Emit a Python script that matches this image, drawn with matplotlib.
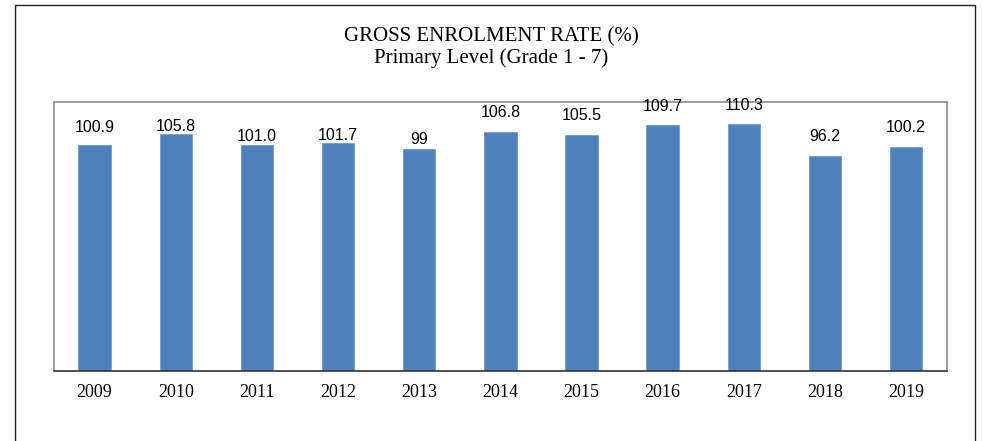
import matplotlib
matplotlib.use("Agg")
import matplotlib.pyplot as plt
from matplotlib.patches import Rectangle

years = ["2009", "2010", "2011", "2012", "2013", "2014", "2015", "2016", "2017", "2018", "2019"]
rates = [100.9, 105.8, 101.0, 101.7, 99.0, 106.8, 105.5, 109.7, 110.3, 96.2, 100.2]
labels = ["100.9", "105.8", "101.0", "101.7", "99", "106.8", "105.5", "109.7", "110.3", "96.2", "100.2"]
label_offsets_px = [18, 8, 8, 8, 10, 19, 19, 19, 19, 19, 19]

W, H = 983, 441
fig = plt.figure(figsize=(W / 100, H / 100), dpi=100)
fig.patch.set_facecolor("white")

# outer frame
fig.patches.append(Rectangle((15 / W, -0.05), (975 - 15) / W, (H - 5) / H + 0.05,
                             transform=fig.transFigure, fill=False,
                             edgecolor="#222222", linewidth=1.0))

ax = fig.add_axes([54 / W, 70 / H, (946.7 - 54) / W, (371 - 102.3) / H])
x = list(range(len(years)))
ax.bar(x, rates, width=0.40, color="#4F81BD", edgecolor="#6f9bd1", linewidth=0.6, zorder=2)
ax.set_xlim(-0.5, len(years) - 0.5)
ax.set_ylim(0, 120)
ax.set_xticks(x)
ax.set_xticklabels(years, fontfamily="Liberation Serif", fontsize=13)
ax.tick_params(axis="x", length=0, pad=9.5)
ax.set_yticks([])
for s in ["left", "right", "top"]:
    ax.spines[s].set_color("#8c8c8c")
    ax.spines[s].set_linewidth(1.2)
ax.spines["bottom"].set_color("#333333")
ax.spines["bottom"].set_linewidth(1.2)

for xi, v, lab, off in zip(x, rates, labels, label_offsets_px):
    ax.annotate(lab, (xi, v), xytext=(0, off), textcoords="offset pixels",
                ha="center", va="center", fontfamily="Liberation Sans",
                fontsize=11.5, color="black", annotation_clip=False, zorder=3)

fig.text(0.5, 1 - 41 / H, "GROSS ENROLMENT RATE (%)", ha="center", va="baseline",
         fontfamily="Liberation Serif", fontsize=15)
fig.text(0.5, 1 - 62.5 / H, "Primary Level (Grade 1 - 7)", ha="center", va="baseline",
         fontfamily="Liberation Serif", fontsize=15)

fig.savefig("out.png", dpi=100)
